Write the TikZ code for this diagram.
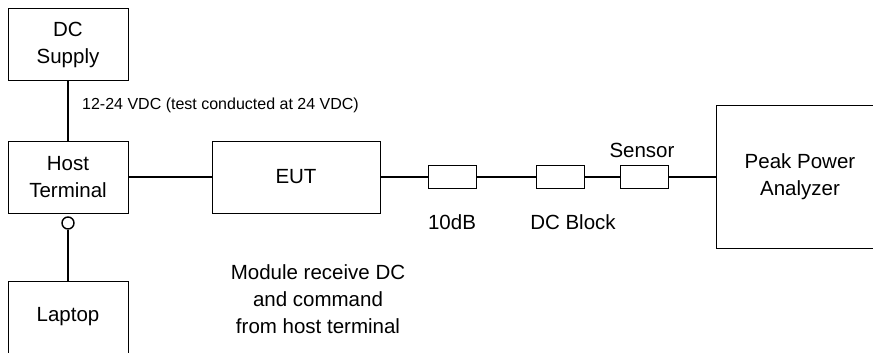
\documentclass[tikz,border=0pt]{standalone}
\usepackage{fontspec}
\setmainfont{Liberation Sans}
\begin{document}
\begin{tikzpicture}[x=1pt,y=-1pt,
  box/.style={draw, line width=1pt, inner sep=0pt, align=center,
    font=\fontsize{20.5}{27}\selectfont},
  small/.style={draw, line width=1pt, inner sep=0pt, minimum width=48pt, minimum height=23pt},
  lbl/.style={inner sep=0pt, align=center, font=\fontsize{20.5}{27}\selectfont},
  wire/.style={line width=2pt}]
\useasboundingbox (0,0) rectangle (873,353);
\clip (0,0) rectangle (873,353);
\node[box, minimum width=120pt, minimum height=72pt] (dc) at (68,45) {DC\\Supply};
\node[box, minimum width=120pt, minimum height=72pt] (host) at (68,177) {Host\\Terminal};
\node[box, minimum width=120pt, minimum height=80pt, anchor=north] (lap) at (68,281) {};
\node[lbl] (laptxt) at (68,317) {Laptop};
\node[box, minimum width=168pt, minimum height=72pt] (eut) at (296,177) {EUT};
\node[small] (att) at (452,177) {};
\node[small] (blk) at (560,177) {};
\node[small] (sen) at (644,177) {};
\node[box, minimum width=168pt, minimum height=143pt] (ppa) at (800,176.5) {Peak Power\\Analyzer};
\node[draw, circle, line width=1.4pt, inner sep=0pt, minimum size=12pt] (jack) at (68,223) {};
\node[lbl] (attl) at (452,222) {10dB};
\node[lbl] (blkl) at (573,222) {DC Block};
\node[lbl] (senl) at (642,150) {Sensor};
\node[lbl] (mod) at (318,299) {Module receive DC\\and command\\from host terminal};
\node[inner sep=0pt, anchor=base west, font=\fontsize{16}{18}\selectfont] (volt) at (82,110) {12-24 VDC (test conducted at 24 VDC)};
\draw[wire] (dc) -- (host);
\draw[wire] (jack) -- (lap);
\draw[wire] (host) -- (eut);
\draw[wire] (eut) -- (att);
\draw[wire] (att) -- (blk);
\draw[wire] (blk) -- (sen);
\draw[wire] (sen.east) -- (ppa.west |- sen.east);
\end{tikzpicture}
\end{document}
